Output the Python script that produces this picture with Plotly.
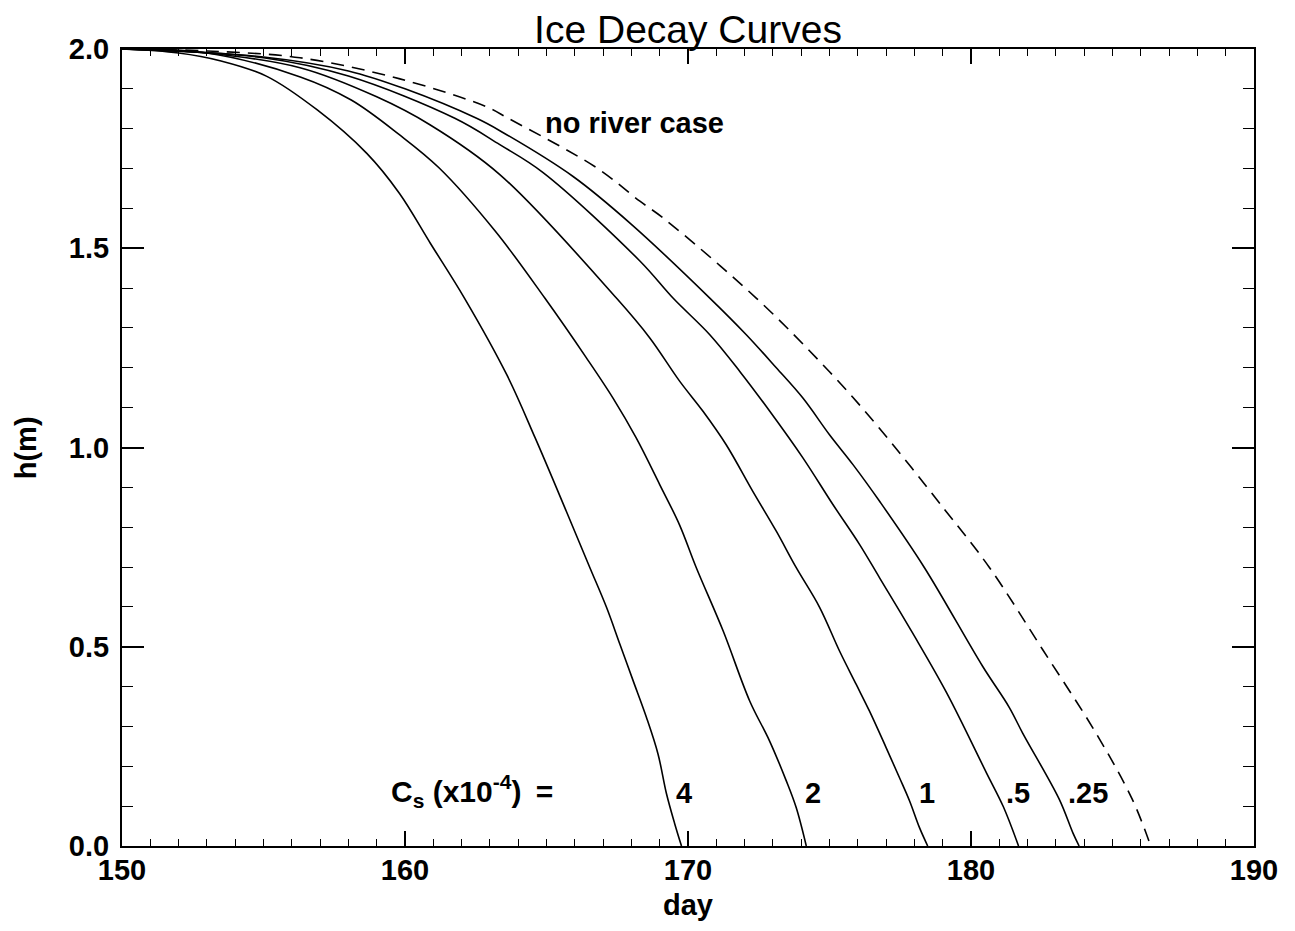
import plotly.graph_objects as go

# ---- data ----
day_cs4 = [150, 152, 153.5, 155.1, 156.9, 158.65, 159.8, 160.9, 162.1, 163.6, 164.6, 165.7,
           166.53, 167.12, 167.59, 168.06, 168.53, 168.94, 169.24, 169.53, 169.77]
h_cs4 = [2.0, 1.99, 1.97, 1.932, 1.847, 1.738, 1.638, 1.512, 1.375, 1.182, 1.024, 0.840,
         0.699, 0.599, 0.507, 0.415, 0.323, 0.231, 0.131, 0.056, 0.0]

day_cs2 = [150, 153, 156.3, 158.1, 159.8, 161.2, 163.2, 164.94, 166.41, 167.35, 168.17, 169.0,
           169.7, 170.29, 171.24, 172.18, 172.88, 173.47, 173.82, 174.18]
h_cs2 = [2.0, 1.99, 1.93, 1.872, 1.785, 1.702, 1.542, 1.375, 1.225, 1.124, 1.024, 0.907,
         0.806, 0.699, 0.540, 0.364, 0.264, 0.164, 0.097, 0.0]

day_cs1 = [150, 153, 156.29, 159, 160.88, 163.35, 167.47, 168.65, 169.71, 170.53, 171.35,
           172.29, 173.12, 173.82, 174.65, 175.35, 175.94, 176.41, 177.0, 177.47, 177.83,
           178.18, 178.47]
h_cs1 = [2.0, 1.99, 1.953, 1.88, 1.81, 1.685, 1.375, 1.275, 1.166, 1.091, 1.007,
         0.890, 0.790, 0.699, 0.599, 0.490, 0.406, 0.339, 0.247, 0.172, 0.113, 0.046, 0.0]

day_cs05 = [150, 155, 158, 161.76, 163.35, 164.88, 168.3, 169.47, 170.77, 171.83,
            172.89, 174.06, 175.12, 176.06, 176.77, 177.94, 179.15, 180.55, 181.14, 181.68]
h_cs05 = [2.0, 1.978, 1.932, 1.826, 1.760, 1.69, 1.468, 1.375, 1.283, 1.191,
          1.091, 0.974, 0.857, 0.757, 0.673, 0.534, 0.383, 0.183, 0.099, 0.0]

day_cs025 = [150, 155, 158, 160, 162.53, 163.35, 165.94, 168.0, 170.77, 172.06, 173.12,
             174.06, 175.0, 175.83, 176.77, 178.35, 180.41, 181.35, 181.82, 183.12, 183.6, 183.82]
h_cs025 = [2.0, 1.98, 1.945, 1.90, 1.826, 1.795, 1.68, 1.56, 1.375, 1.283, 1.2,
           1.124, 1.032, 0.957, 0.865, 0.699, 0.451, 0.348, 0.284, 0.117, 0.033, 0.0]

day_noriver = [150, 153, 156.29, 159.82, 162.88, 163.65, 166.77, 168.3, 169.12, 172.41,
               175.0, 176.65, 179.1, 180.65, 182.53, 184.41, 185.7, 186.35]
h_noriver = [2.0, 1.995, 1.978, 1.925, 1.855, 1.826, 1.702, 1.618, 1.576, 1.375,
             1.19, 1.058, 0.8415, 0.699, 0.493, 0.284, 0.117, 0.0]

curve_labels = ["4", "2", "1", ".5", ".25"]
label_days = [169.85, 174.41, 178.46, 181.65, 184.15]
label_h = 0.132

x_ticks = [150, 160, 170, 180, 190]
y_ticks = [0.0, 0.5, 1.0, 1.5, 2.0]

FONT = "Liberation Sans, Arial, Helvetica, sans-serif"
BOLD = dict(family=FONT, size=29, color="black", weight="bold")

fig = go.Figure()
solid = [(day_cs4, h_cs4), (day_cs2, h_cs2), (day_cs1, h_cs1),
         (day_cs05, h_cs05), (day_cs025, h_cs025)]
for d, h in solid:
    fig.add_trace(go.Scatter(x=d, y=h, mode="lines",
                             line=dict(color="black", width=1.6, shape="spline", smoothing=1.0),
                             showlegend=False, hoverinfo="skip"))
fig.add_trace(go.Scatter(x=day_noriver, y=h_noriver, mode="lines",
                         line=dict(color="black", width=1.6, dash="13px,8px",
                                   shape="spline", smoothing=1.0),
                         showlegend=False, hoverinfo="skip"))

for t, d in zip(curve_labels, label_days):
    fig.add_annotation(x=d, y=label_h, text=t, showarrow=False, xanchor="center",
                       yanchor="middle", font=BOLD)

fig.add_annotation(x=159.45, y=label_h + 0.005,
                   text="C<sub>s</sub> (x10<sup>-4</sup>) \u2009=", showarrow=False,
                   xanchor="left", yanchor="middle",
                   font=dict(family=FONT, size=30, color="black", weight="bold"))
fig.add_annotation(x=164.87, y=1.815, text="no river case", showarrow=False,
                   xanchor="left", yanchor="middle", font=BOLD)

fig.add_annotation(x=0.5, y=-0.074, xref="paper", yref="paper", text="day",
                   showarrow=False, xanchor="center", yanchor="middle", font=BOLD)
fig.add_annotation(x=-0.085, y=0.5, xref="paper", yref="paper", text="h(m)",
                   showarrow=False, xanchor="center", yanchor="middle", textangle=-90,
                   font=BOLD)

axis_common = dict(showgrid=False, zeroline=False, showline=True, linecolor="black",
                   linewidth=2, mirror="allticks", ticks="inside", tickcolor="black",
                   tickwidth=1.5, tickfont=BOLD)

fig.update_xaxes(range=[150, 190], tickvals=x_ticks, ticklen=15,
                 minor=dict(dtick=1, ticklen=7, ticks="inside", tickcolor="black", tickwidth=1.3),
                 ticklabelstandoff=-3, **axis_common)
fig.update_yaxes(range=[0, 2.0], tickvals=y_ticks, tickformat=".1f", ticklen=22,
                 minor=dict(dtick=0.1, ticklen=11, ticks="inside", tickcolor="black", tickwidth=1.3),
                 ticklabelstandoff=5, **axis_common)

fig.update_layout(
    width=1295, height=931,
    margin=dict(l=122, r=41, t=49, b=85),
    paper_bgcolor="white", plot_bgcolor="white",
    title=dict(text="Ice Decay Curves", x=0.5, xref="paper", y=0.969, yref="container",
               xanchor="center", yanchor="middle",
               font=dict(family=FONT, size=39, color="black")),
    showlegend=False,
)

fig.write_html("out.html", config={"displayModeBar": False},
               post_script="document.body.style.margin='0';")
